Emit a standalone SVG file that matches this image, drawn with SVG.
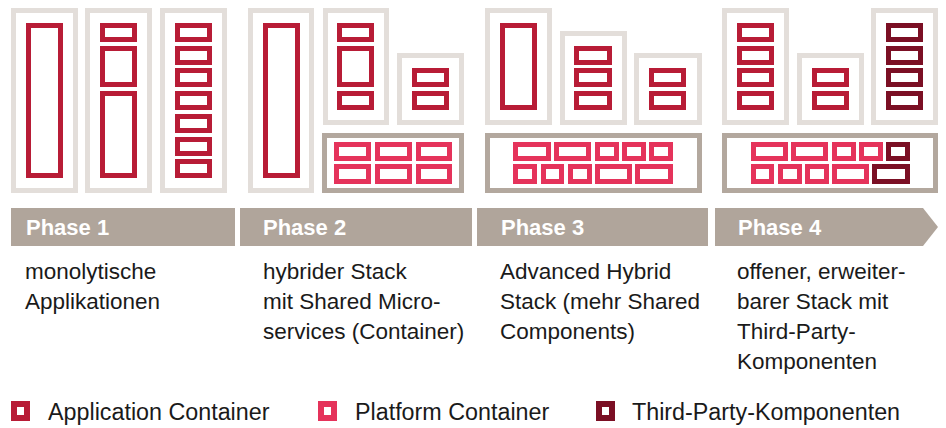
<svg xmlns="http://www.w3.org/2000/svg" width="946" height="428" viewBox="0 0 946 428">
  <style>
    .frame { fill: #ffffff; stroke: #e3deda; stroke-width: 5; }
    .plat  { fill: #ffffff; stroke: #b3a89e; stroke-width: 5; }
    .app   { fill: #ffffff; stroke: #b81c36; stroke-width: 5; }
    .pf    { fill: #ffffff; stroke: #e5335b; stroke-width: 5; }
    .tp    { fill: #ffffff; stroke: #7b0f24; stroke-width: 5; }
    .key   { stroke-width: 6; }
    .bar   { fill: #b0a59b; }
    .phase { font-family: "Liberation Sans", Arial, sans-serif; font-weight: bold; font-size: 22px; fill: #ffffff; }
    .desc  { font-family: "Liberation Sans", Arial, sans-serif; font-size: 22.5px; fill: #1a1a1a; }
    .leg   { font-family: "Liberation Sans", Arial, sans-serif; font-size: 23.3px; fill: #1a1a1a; }
  </style>

  <!-- Phase 1: monolithic applications -->
  <g id="phase1-stack">
    <rect class="frame" x="13.5" y="10.5" width="62" height="180"/>
    <rect class="frame" x="87.5" y="10.5" width="62" height="180"/>
    <rect class="frame" x="162.5" y="10.5" width="62" height="180"/>
    <rect class="app" x="28.5" y="25.5" width="32" height="150"/>
    <rect class="app" x="102.5" y="25.5" width="32" height="14"/>
    <rect class="app" x="102.5" y="48.5" width="32" height="36"/>
    <rect class="app" x="102.5" y="93.5" width="32" height="82"/>
    <rect class="app" x="177.5" y="25.5" width="32" height="14"/>
    <rect class="app" x="177.5" y="48.5" width="32" height="14"/>
    <rect class="app" x="177.5" y="70.5" width="32" height="14"/>
    <rect class="app" x="177.5" y="93.5" width="32" height="14"/>
    <rect class="app" x="177.5" y="116.5" width="32" height="14"/>
    <rect class="app" x="177.5" y="139.5" width="32" height="14"/>
    <rect class="app" x="177.5" y="161.5" width="32" height="14"/>
  </g>

  <!-- Phase 2: hybrid stack with shared microservices -->
  <g id="phase2-stack">
    <rect class="frame" x="250.5" y="10.5" width="61" height="180"/>
    <rect class="frame" x="325.5" y="10.5" width="61" height="112"/>
    <rect class="frame" x="399.5" y="55.5" width="62" height="67"/>
    <rect class="plat" x="324.5" y="135.5" width="137" height="55"/>
    <rect class="app" x="265.5" y="25.5" width="32" height="150"/>
    <rect class="app" x="339.5" y="25.5" width="32" height="14"/>
    <rect class="app" x="339.5" y="48.5" width="32" height="36"/>
    <rect class="app" x="339.5" y="93.5" width="32" height="14"/>
    <rect class="app" x="414.5" y="70.5" width="32" height="14"/>
    <rect class="app" x="414.5" y="93.5" width="32" height="14"/>
    <rect class="pf" x="336.5" y="144.5" width="32" height="14"/>
    <rect class="pf" x="377.5" y="144.5" width="32" height="14"/>
    <rect class="pf" x="418.5" y="144.5" width="31" height="14"/>
    <rect class="pf" x="336.5" y="166.5" width="32" height="15"/>
    <rect class="pf" x="377.5" y="166.5" width="32" height="15"/>
    <rect class="pf" x="418.5" y="166.5" width="31" height="15"/>
  </g>

  <!-- Phase 3: advanced hybrid stack -->
  <g id="phase3-stack">
    <rect class="frame" x="487.5" y="10.5" width="62" height="112"/>
    <rect class="frame" x="562.5" y="33.5" width="62" height="89"/>
    <rect class="frame" x="636.5" y="55.5" width="63" height="67"/>
    <rect class="plat" x="487.5" y="135.5" width="212" height="55"/>
    <rect class="app" x="502.5" y="25.5" width="32" height="82"/>
    <rect class="app" x="576.5" y="48.5" width="33" height="14"/>
    <rect class="app" x="576.5" y="70.5" width="33" height="14"/>
    <rect class="app" x="576.5" y="93.5" width="33" height="14"/>
    <rect class="app" x="651.5" y="70.5" width="32" height="14"/>
    <rect class="app" x="651.5" y="93.5" width="32" height="14"/>
    <rect class="pf" x="515.5" y="144.5" width="33" height="14"/>
    <rect class="pf" x="556.5" y="144.5" width="32" height="14"/>
    <rect class="pf" x="597.5" y="144.5" width="19" height="14"/>
    <rect class="pf" x="624.5" y="144.5" width="19" height="14"/>
    <rect class="pf" x="651.5" y="144.5" width="19" height="14"/>
    <rect class="pf" x="515.5" y="166.5" width="19" height="15"/>
    <rect class="pf" x="543.5" y="166.5" width="18" height="15"/>
    <rect class="pf" x="570.5" y="166.5" width="19" height="15"/>
    <rect class="pf" x="597.5" y="166.5" width="32" height="15"/>
    <rect class="pf" x="637.5" y="166.5" width="33" height="15"/>
  </g>

  <!-- Phase 4: open, extensible stack with third-party components -->
  <g id="phase4-stack">
    <rect class="frame" x="724.5" y="10.5" width="62" height="112"/>
    <rect class="frame" x="799.5" y="55.5" width="62" height="67"/>
    <rect class="frame" x="873.5" y="10.5" width="62" height="112"/>
    <rect class="plat" x="724.5" y="135.5" width="211" height="55"/>
    <rect class="app" x="739.5" y="25.5" width="32" height="14"/>
    <rect class="app" x="739.5" y="48.5" width="32" height="14"/>
    <rect class="app" x="739.5" y="70.5" width="32" height="14"/>
    <rect class="app" x="739.5" y="93.5" width="32" height="14"/>
    <rect class="app" x="814.5" y="70.5" width="32" height="14"/>
    <rect class="app" x="814.5" y="93.5" width="32" height="14"/>
    <rect class="tp" x="888.5" y="25.5" width="32" height="14"/>
    <rect class="tp" x="888.5" y="48.5" width="32" height="14"/>
    <rect class="tp" x="888.5" y="70.5" width="32" height="14"/>
    <rect class="tp" x="888.5" y="93.5" width="32" height="14"/>
    <rect class="pf" x="753.5" y="144.5" width="32" height="14"/>
    <rect class="pf" x="793.5" y="144.5" width="32" height="14"/>
    <rect class="pf" x="834.5" y="144.5" width="19" height="14"/>
    <rect class="pf" x="861.5" y="144.5" width="19" height="14"/>
    <rect class="tp" x="888.5" y="144.5" width="19" height="14"/>
    <rect class="pf" x="753.5" y="166.5" width="18" height="15"/>
    <rect class="pf" x="780.5" y="166.5" width="19" height="15"/>
    <rect class="pf" x="807.5" y="166.5" width="19" height="15"/>
    <rect class="pf" x="834.5" y="166.5" width="32" height="15"/>
    <rect class="tp" x="874.5" y="166.5" width="33" height="15"/>
  </g>

  <!-- Phase timeline -->
  <g id="phase1">
    <rect class="bar" x="11" y="208" width="224" height="38"/>
    <text class="phase" x="26" y="235">Phase 1</text>
    <text class="desc" x="25" y="279">monolytische</text>
    <text class="desc" x="25" y="309">Applikationen</text>
  </g>
  <g id="phase2">
    <rect class="bar" x="240" y="208" width="232" height="38"/>
    <text class="phase" x="263" y="235">Phase 2</text>
    <text class="desc" x="263" y="279">hybrider Stack</text>
    <text class="desc" x="263" y="309">mit Shared Micro-</text>
    <text class="desc" x="263" y="339">services (Container)</text>
  </g>
  <g id="phase3">
    <rect class="bar" x="477" y="208" width="231" height="38"/>
    <text class="phase" x="501" y="235">Phase 3</text>
    <text class="desc" x="500" y="279">Advanced Hybrid</text>
    <text class="desc" x="500" y="309">Stack (mehr Shared</text>
    <text class="desc" x="500" y="339">Components)</text>
  </g>
  <g id="phase4">
    <polygon class="bar" points="715,208 923,208 938,227 923,246 715,246"/>
    <text class="phase" x="738" y="235">Phase 4</text>
    <text class="desc" x="737" y="279">offener, erweiter-</text>
    <text class="desc" x="737" y="309">barer Stack mit</text>
    <text class="desc" x="737" y="339">Third-Party-</text>
    <text class="desc" x="737" y="369">Komponenten</text>
  </g>

  <!-- Legend -->
  <g id="legend">
    <rect class="app key" x="14" y="404" width="13" height="14"/>
    <text class="leg" x="48" y="420">Application Container</text>
    <rect class="pf key" x="321" y="404" width="13" height="14"/>
    <text class="leg" x="355" y="420">Platform Container</text>
    <rect class="tp key" x="599" y="404" width="13" height="14"/>
    <text class="leg" x="632" y="420">Third-Party-Komponenten</text>
  </g>

  <g id="connectors"/>
</svg>
